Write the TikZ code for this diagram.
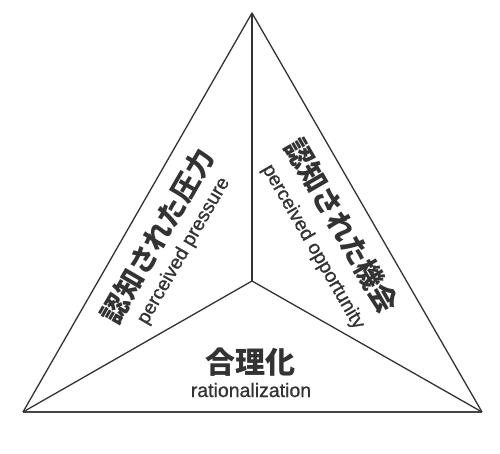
\documentclass[tikz,border=0pt]{standalone}
\usepackage{fontspec}
\setmainfont{Liberation Sans}
\newfontfamily\enfont{Liberation Sans}[FakeBold=0.9]
\newfontfamily\jpfont{Noto Sans CJK JP}
\definecolor{ink}{HTML}{333333}
\begin{document}
\begin{tikzpicture}[x=1pt,y=-1pt,
  edge/.style={draw=ink,line width=1.3pt,line join=round},
  jp/.style={inner sep=0pt,text=ink,font=\jpfont\bfseries\fontsize{28}{30}\selectfont},
  en/.style={inner sep=0pt,text=ink,font=\enfont\fontsize{19.5}{21}\selectfont}]
\useasboundingbox (0,0) rectangle (500,454);
\coordinate (A) at (252,13);
\coordinate (B) at (23,412);
\coordinate (C) at (482,412);
\coordinate (O) at (252,281);
\draw[edge] (B) -- (A) -- (C);
\draw[edge,line width=1.7pt,draw=ink!90] (B) -- (C);
\draw[edge] (O) -- (A);
\draw[edge] (O) -- (B);
\draw[edge] (O) -- (C);
\node[jp,rotate=60] (lj) at (157,236) {認知された圧力};
\node[en,rotate=60] (le) at (184,251) {perceived pressure};
\node[jp,rotate=-60] (rj) at (342,226) {認知された機会};
\node[en,rotate=-60] (re) at (313,247) {perceived opportunity};
\node[jp,font=\jpfont\bfseries\fontsize{30}{32}\selectfont] (bj) at (250,362) {合理化};
\node[en,anchor=base] (be) at (251,397) {rationalization};
\end{tikzpicture}
\end{document}
